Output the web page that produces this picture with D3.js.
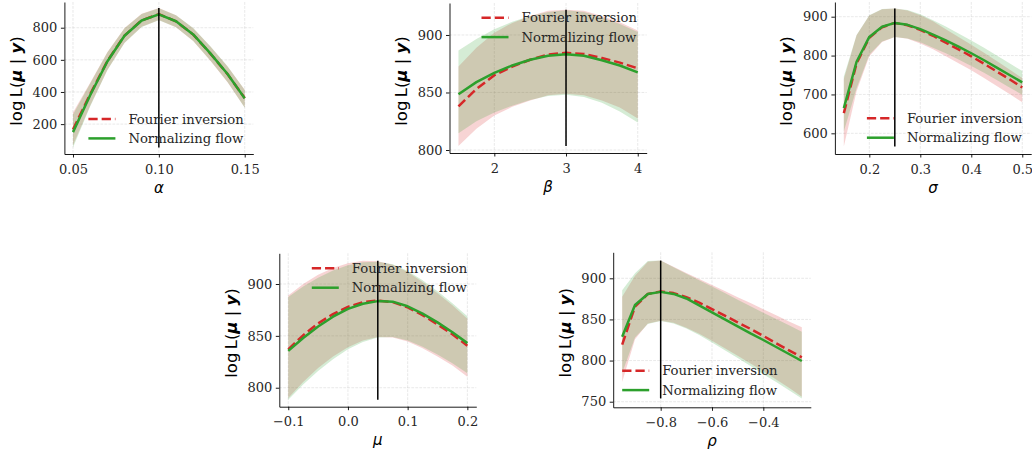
<!DOCTYPE html>
<html>
<head>
<meta charset="utf-8">
<script src="https://cdn.jsdelivr.net/npm/d3@7"></script>
<style>
  html, body { margin: 0; padding: 0; background: #fff; }
  svg { display: block; }
</style>
</head>
<body>
<svg id="fig" width="1032" height="454"></svg>
<script>
// ---- profile log-likelihood data: mean curve and band per method ----

// alpha
const alphaGrid = [0.05, 0.06, 0.07, 0.08, 0.09, 0.10, 0.11, 0.12, 0.13, 0.14, 0.15];
const alphaFourier   = [166, 386, 592, 751, 846, 884, 840, 757, 639, 511, 362];
const alphaFourierLo = [68, 315, 537, 706, 806, 848, 803, 717, 595, 461, 304];
const alphaFourierHi = [272, 458, 648, 798, 887, 922, 878, 797, 683, 559, 414];
const alphaFlow      = [150, 380, 590, 750, 845, 883, 840, 758, 640, 512, 360];
const alphaFlowLo    = [55, 310, 535, 705, 805, 847, 803, 718, 596, 462, 302];
const alphaFlowHi    = [260, 452, 646, 797, 886, 921, 878, 798, 684, 560, 412];

// beta
const betaGrid = [1.5, 1.75, 2.0, 2.25, 2.5, 2.75, 3.0, 3.25, 3.5, 3.75, 4.0];
const betaFourier   = [838, 853, 865, 872.5, 878.5, 883, 884.5, 883.5, 880, 876, 871];
const betaFourierLo = [803.5, 818.5, 830, 837.5, 843, 847.5, 849, 847.5, 843, 837, 827.5];
const betaFourierHi = [872.5, 889, 902, 910.5, 916.5, 921, 922, 921, 916.5, 911, 904];
const betaFlow      = [848.5, 859, 867, 873.5, 878.5, 882, 883.2, 882, 878, 873.5, 867.5];
const betaFlowLo    = [814.5, 825, 832.5, 838.5, 843.5, 847, 848, 846, 841, 833.5, 824];
const betaFlowHi    = [886.5, 896.5, 905, 911.5, 916.5, 920, 921.5, 920, 915.5, 909.5, 902.5];

// sigma
const sigmaGrid = [0.15, 0.175, 0.2, 0.225, 0.25, 0.275, 0.3, 0.325, 0.35, 0.375, 0.4, 0.425, 0.45, 0.475, 0.5];
const sigmaFourier   = [652, 780, 846, 873, 884, 878, 866, 851, 833, 816, 798, 779, 759, 739, 718];
const sigmaFourierLo = [566, 708, 798, 835, 848, 843, 831, 816, 798, 780, 762, 742, 722, 701, 680];
const sigmaFourierHi = [740, 852, 903, 919, 921, 916, 904, 888, 868, 848, 828, 807, 786, 764, 742];
const sigmaFlow      = [665, 784, 848, 874, 884, 879, 868, 854, 839, 823, 806, 788, 769, 750, 731];
const sigmaFlowLo    = [605, 716, 802, 836, 848, 844, 834, 820, 806, 790, 773, 756, 737, 718, 699];
const sigmaFlowHi    = [746, 853, 904, 920, 921, 917, 906, 891, 875, 857, 839, 820, 800, 780, 760];

// mu
const muGrid = [-0.1, -0.075, -0.05, -0.025, 0.0, 0.025, 0.05, 0.075, 0.1, 0.125, 0.15, 0.175, 0.2];
const muFourier   = [837, 850.5, 862, 871, 878, 882.5, 884, 882.5, 877.5, 870, 861, 851.5, 840.5];
const muFourierLo = [790, 805.5, 819, 830, 839, 845.5, 849, 848.5, 844.5, 838, 830, 821.5, 810.5];
const muFourierHi = [889, 900, 909, 915.5, 920, 922.5, 922, 918.5, 911.5, 902, 891, 879.5, 866.5];
const muFlow      = [835.5, 848, 859, 868.5, 876, 881, 883.5, 883, 878.5, 871.5, 863, 853.5, 843];
const muFlowLo    = [788.5, 803, 816, 827.5, 837, 844, 848.5, 849, 845.5, 839.5, 832, 823.5, 814];
const muFlowHi    = [887.5, 897.5, 906, 913, 918, 921, 921.5, 919, 912.5, 903.5, 893, 881.5, 869];

// rho
const rhoGrid = [-0.95, -0.9, -0.85, -0.8, -0.75, -0.7, -0.65, -0.6, -0.55, -0.5, -0.45, -0.4, -0.35, -0.3, -0.25];
const rhoFourier   = [819.5, 865.5, 881, 884, 882, 877, 870.5, 862.5, 854.5, 846.5, 838.5, 830, 821, 812.5, 804];
const rhoFourierLo = [774, 826, 845, 848.5, 846, 840, 832.5, 824, 815, 806, 796.5, 787, 777, 767, 756];
const rhoFourierHi = [877.5, 903, 920, 921.5, 914, 906.5, 899, 892, 884.5, 877, 870, 862.5, 855, 847.5, 840.5];
const rhoFlow      = [829, 867.5, 881, 883.5, 881, 875.5, 867, 858.5, 850, 841.5, 833, 825, 816.5, 808, 799.5];
const rhoFlowLo    = [785, 828, 844.5, 848, 845, 839, 831, 822, 812.5, 803, 793.5, 783.5, 774, 764, 754];
const rhoFlowHi    = [885.5, 906, 921, 921.5, 913.5, 905.5, 897.5, 890, 882, 874, 866, 858, 850.5, 843, 835];

// true parameter values (vertical reference lines)
const trueValues = { alpha: 0.10, beta: 3.0, sigma: 0.25, mu: 0.05, rho: -0.8 };

// axis limits and ticks
const alphaXLim = [0.045, 0.155], alphaYLim = [14, 960];
const betaXLim  = [1.375, 4.125], betaYLim  = [797.4, 927.8];
const sigmaXLim = [0.1325, 0.5175], sigmaYLim = [546.8, 937.8];
const muXLim    = [-0.115, 0.215], muYLim    = [781.7, 929.6];
const rhoXLim   = [-0.985, -0.215], rhoYLim  = [743.2, 931.6];

const alphaXTicks = [0.05, 0.10, 0.15], alphaYTicks = [200, 400, 600, 800];
const betaXTicks  = [2, 3, 4],          betaYTicks  = [800, 850, 900];
const sigmaXTicks = [0.2, 0.3, 0.4, 0.5], sigmaYTicks = [600, 700, 800, 900];
const muXTicks    = [-0.1, 0.0, 0.1, 0.2], muYTicks  = [800, 850, 900];
const rhoXTicks   = [-0.8, -0.6, -0.4],    rhoYTicks = [750, 800, 850, 900];

const seriesNames = ["Fourier inversion", "Normalizing flow"];
const seriesColors = ["#d62728", "#2ca02c"];

// ---- panel layout (pixel boxes) ----
const panels = [
  { sym: "α", grid: alphaGrid, f: [alphaFourier, alphaFourierLo, alphaFourierHi], n: [alphaFlow, alphaFlowLo, alphaFlowHi],
    truth: trueValues.alpha, xlim: alphaXLim, ylim: alphaYLim, xt: alphaXTicks, yt: alphaYTicks, xfmt: d3.format(".2f"),
    box: { l: 64.4, r: 253.3, t: 2, b: 154 }, leg: { dx: 24, fromTop: false, dy: 35 } },
  { sym: "β", grid: betaGrid, f: [betaFourier, betaFourierLo, betaFourierHi], n: [betaFlow, betaFlowLo, betaFlowHi],
    truth: trueValues.beta, xlim: betaXLim, ylim: betaYLim, xt: betaXTicks, yt: betaYTicks, xfmt: d3.format("d"),
    box: { l: 449.5, r: 646.7, t: 3, b: 153 }, leg: { dx: 32, fromTop: true, dy: 14.7 } },
  { sym: "σ", grid: sigmaGrid, f: [sigmaFourier, sigmaFourierLo, sigmaFourierHi], n: [sigmaFlow, sigmaFlowLo, sigmaFlowHi],
    truth: trueValues.sigma, xlim: sigmaXLim, ylim: sigmaYLim, xt: sigmaXTicks, yt: sigmaYTicks, xfmt: d3.format(".1f"),
    box: { l: 834.9, r: 1031.2, t: 2, b: 154 }, leg: { dx: 32, fromTop: false, dy: 35.7 } },
  { sym: "μ", grid: muGrid, f: [muFourier, muFourierLo, muFourierHi], n: [muFlow, muFlowLo, muFlowHi],
    truth: trueValues.mu, xlim: muXLim, ylim: muYLim, xt: muXTicks, yt: muYTicks, xfmt: d3.format(".1f"),
    box: { l: 279.3, r: 476.3, t: 253.3, b: 406.7 }, leg: { dx: 32.5, fromTop: true, dy: 15 } },
  { sym: "ρ", grid: rhoGrid, f: [rhoFourier, rhoFourierLo, rhoFourierHi], n: [rhoFlow, rhoFlowLo, rhoFlowHi],
    truth: trueValues.rho, xlim: rhoXLim, ylim: rhoYLim, xt: rhoXTicks, yt: rhoYTicks, xfmt: d3.format(".1f"),
    box: { l: 613.2, r: 810.8, t: 252.3, b: 407.3 }, leg: { dx: 9, fromTop: false, dy: 36.6 } }
];

const SERIF = "'DejaVu Serif', serif";
const SANS = "'DejaVu Sans', sans-serif";
const svg = d3.select("#fig");

panels.forEach((p, pi) => {
  const { l, r, t, b } = p.box;
  const x = d3.scaleLinear().domain(p.xlim).range([l, r]);
  const y = d3.scaleLinear().domain(p.ylim).range([b, t]);
  const g = svg.append("g");

  // grid
  const grid = g.append("g").attr("stroke", "#b0b0b0").attr("stroke-opacity", 0.35)
    .attr("stroke-width", 0.8).attr("stroke-dasharray", "2.8,1.2");
  grid.selectAll("line.gx").data(p.xt).join("line")
    .attr("x1", d => x(d)).attr("x2", d => x(d)).attr("y1", t).attr("y2", b);
  grid.selectAll("line.gy").data(p.yt).join("line")
    .attr("x1", l).attr("x2", r).attr("y1", d => y(d)).attr("y2", d => y(d));

  const clipId = "clip" + pi;
  svg.append("clipPath").attr("id", clipId).append("rect")
    .attr("x", l).attr("y", t).attr("width", r - l).attr("height", b - t);
  const plot = g.append("g").attr("clip-path", `url(#${clipId})`);

  const sets = [p.f, p.n];
  // shaded bands
  sets.forEach((s, si) => {
    const area = d3.area().x((d, i) => x(p.grid[i])).y0((d, i) => y(s[1][i])).y1((d, i) => y(s[2][i]));
    plot.append("path").datum(s[0]).attr("d", area)
      .attr("fill", seriesColors[si]).attr("fill-opacity", 0.2).attr("stroke", "none");
  });
  // mean curves
  sets.forEach((s, si) => {
    const line = d3.line().x((d, i) => x(p.grid[i])).y(d => y(d));
    plot.append("path").datum(s[0]).attr("d", line)
      .attr("fill", "none").attr("stroke", seriesColors[si]).attr("stroke-width", 2.5)
      .attr("stroke-linejoin", "round")
      .attr("stroke-dasharray", si === 0 ? "9.25,4" : null);
  });

  // true value line spanning the bands
  const lo = d3.min([...p.f[1], ...p.n[1]]);
  const hi = d3.max([...p.f[2], ...p.n[2]]);
  g.append("line").attr("x1", x(p.truth)).attr("x2", x(p.truth))
    .attr("y1", y(lo)).attr("y2", y(hi)).attr("stroke", "#000").attr("stroke-width", 1.5);

  // axes
  const xa = g.append("g").attr("transform", `translate(0,${b})`)
    .call(d3.axisBottom(x).tickValues(p.xt).tickFormat(p.xfmt).tickSize(3.5).tickSizeOuter(0).tickPadding(3.5));
  const ya = g.append("g").attr("transform", `translate(${l},0)`)
    .call(d3.axisLeft(y).tickValues(p.yt).tickFormat(d3.format("d")).tickSize(3.5).tickSizeOuter(0).tickPadding(3.5));
  [xa, ya].forEach(a => {
    a.select(".domain").attr("stroke", "#000").attr("stroke-width", 0.9);
    a.selectAll(".tick line").attr("stroke", "#000").attr("stroke-width", 0.9);
    a.selectAll(".tick text").attr("fill", "#262626").style("font-family", SERIF).style("font-size", "13px");
  });
  xa.selectAll(".tick text").attr("dy", null).attr("y", 19.5);

  // axis labels
  g.append("text").attr("x", (l + r) / 2).attr("y", b + 38.5).attr("text-anchor", "middle")
    .style("font-family", SANS).style("font-size", "15px").style("font-style", "italic")
    .attr("fill", "#000").text(p.sym);

  const yl = g.append("text").attr("transform", `translate(${l - 42.5},${(t + b) / 2 + 3}) rotate(-90)`)
    .attr("text-anchor", "middle").style("font-family", SANS).style("font-size", "16.5px").attr("fill", "#000");
  yl.append("tspan").text("log\u2009L(");
  yl.append("tspan").style("font-weight", "bold").style("font-style", "italic").text("μ");
  yl.append("tspan").text(" | ");
  yl.append("tspan").style("font-weight", "bold").style("font-style", "italic").text("y");
  yl.append("tspan").text(")");

  // legend
  const lx = l + p.leg.dx;
  const ly0 = p.leg.fromTop ? t + p.leg.dy : b - p.leg.dy;
  seriesNames.forEach((name, si) => {
    const ly = ly0 + si * 19.4;
    g.append("line").attr("x1", lx).attr("x2", lx + 27).attr("y1", ly).attr("y2", ly)
      .attr("stroke", seriesColors[si]).attr("stroke-width", 2.5)
      .attr("stroke-dasharray", si === 0 ? "9.25,4" : null);
    g.append("text").attr("x", lx + 40).attr("y", ly).attr("dy", "0.35em")
      .style("font-family", SERIF).style("font-size", "13.2px").attr("fill", "#262626").text(name);
  });
});
</script>
</body>
</html>
